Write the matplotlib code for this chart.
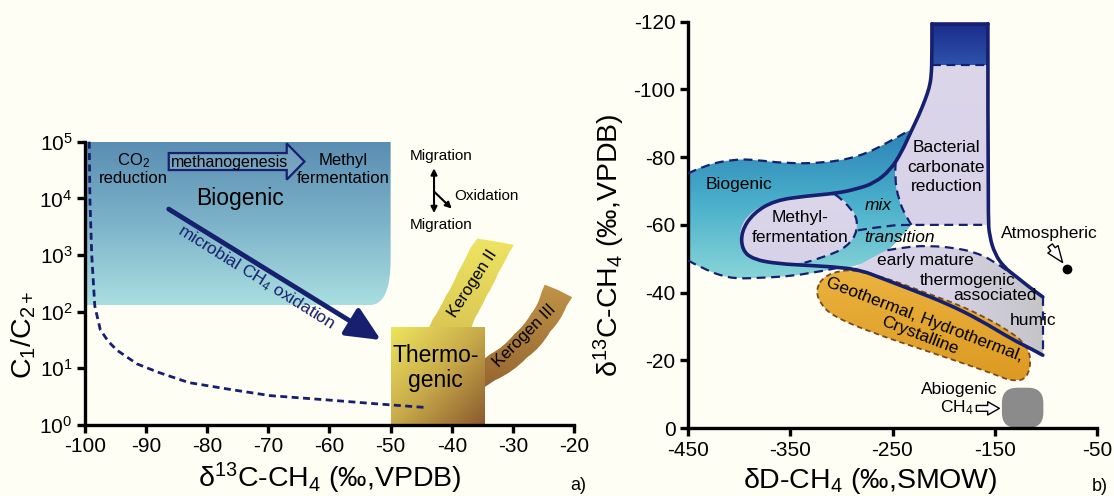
import numpy as np
import matplotlib
matplotlib.use('Agg')
import matplotlib.pyplot as plt
from matplotlib.path import Path
from matplotlib.patches import PathPatch, FancyBboxPatch, Polygon
from matplotlib.colors import LinearSegmentedColormap
from matplotlib.ticker import NullLocator

plt.rcParams['font.family'] = ['Liberation Sans', 'DejaVu Sans']
plt.rcParams['mathtext.fontset'] = 'custom'
plt.rcParams['mathtext.rm'] = 'Liberation Sans'
plt.rcParams['mathtext.it'] = 'Liberation Sans:italic'
plt.rcParams['axes.unicode_minus'] = False

NAVY = '#17206e'
BG = '#fffef5'

# ---------------- panel a data (d13C vs C1/C2+) ----------------
a_xticks = [-100, -90, -80, -70, -60, -50, -40, -30, -20]
a_yticks = [1, 10, 100, 1e3, 1e4, 1e5]

# biogenic field (rounded lower-right corner)
bio_a_x = [-100, -100, -100, -100, -50, -50, -50, -50, -50, -57, -57]
bio_a_y = [130, 130, 1e5, 1e5, 1e5, 1e5, 1500, 1500, 130, 130, 130]

# mixing / oxidation dashed curve
mix_d13c = [-99.3, -99.2, -98.9, -98.4, -97.5, -96.2, -94.8, -91.5, -88, -83, -76, -69.7, -60, -52, -44.6]
mix_ratio = [1e5, 1e4, 1e3, 126, 48, 30, 21, 12, 8.5, 5.6, 4.2, 3.3, 2.75, 2.35, 2.05]

# thermogenic box
therm_x = [-50, -34.6, -34.6, -50]
therm_y = [1, 1, 54, 54]

# kerogen bands
k2_x = [-44.2, -44.2, -42.0, -39.9, -38.1, -35.8, -35.8, -29.8, -29.8, -31.4, -33.3, -35.2, -37.2, -37.2]
k2_y = [40, 40, 107, 275, 710, 1950, 1950, 1510, 1510, 710, 275, 115, 40, 40]
k3_x = [-36, -36, -31.4, -28.1, -25.9, -24.8, -24.8, -20.3, -20.3, -22.2, -25.5, -29.9, -36, -36]
k3_y = [11.5, 11.5, 24, 57, 128, 300, 300, 180, 180, 68, 22.5, 8.6, 3.7, 3.7]

# methanogenesis hollow arrow
meth_x = [-86.3, -67.0, -67.0, -64.1, -67.0, -67.0, -86.3]
meth_y = [10**4.80, 10**4.80, 10**4.97, 10**4.65, 10**4.33, 10**4.50, 10**4.50]

# microbial oxidation arrow (tail, head)
ox_arrow_x = [-86.3, -51.6]
ox_arrow_y = [10**3.81, 10**1.5]

# ---------------- panel b data (dD vs d13C) ----------------
b_xticks = [-450, -350, -250, -150, -50]
b_yticks = [0, -20, -40, -60, -80, -100, -120]

rect_x = [-211.4, -156.7, -156.7, -211.4]
rect_y = [-119.4, -119.4, -107.3, -107.3]

s_curve_x = [-211.4, -211.4, -212, -214, -218, -224, -232, -241, -252, -268, -285, -305, -335, -365,
             -386, -398, -397, -386, -362, -330, -300, -280, -262, -230, -197, -165, -132, -115, -103]
s_curve_y = [-119.4, -110, -104, -100.5, -97, -92.5, -87.5, -81.5, -76.2, -72.3, -70.6, -69.3, -68.5, -67.2,
             -63.5, -58, -52.5, -49.8, -48.5, -48, -47.4, -46.5, -44.4, -40.7, -36.8, -32, -26, -23.5, -21.5]

right_x = [-156.7, -156.7, -155, -150, -141, -128, -115, -103]
right_y = [-119.4, -62, -56.5, -51.5, -47.5, -44.5, -41.3, -38.7]

bio_top_x = [-450, -432.6, -404.8, -383.9, -356, -317.8, -283, -255.2, -233]
bio_top_y = [-75.2, -77.7, -79.4, -79.2, -78.2, -78.2, -80.1, -84.1, -88]
bio_bot_x = [-450, -439.6, -411.7, -383.9, -335.2, -300.4]
bio_bot_y = [-49.5, -47.7, -44.2, -44.2, -45.2, -47.5]
bact_left_x = [-246.9, -248, -244, -236, -231.5]
bact_left_y = [-78.6, -74.1, -67.3, -62, -60]
line60_x = [-283.7, -252.7, -231.5, -156.7]
line60_y = [-58.4, -59.9, -60, -60]
line107_x = [-211.4, -156.7]
line107_y = [-107.3, -107.3]
methyl_dash_x = [-306, -287, -283.5, -294, -316, -336]
methyl_dash_y = [-69, -64.5, -58.4, -53.5, -50.5, -48.8]
thermo_arc_x = [-255, -235, -212, -190, -170, -152, -138]
thermo_arc_y = [-52.5, -53.6, -53.8, -53.2, -52.0, -49.5, -46.5]
humic_x = [-103, -103]
humic_y = [-38.7, -21.5]

cyan_x = [-450, -450, -450, -432.6, -404.8, -383.9, -356, -317.8, -283, -255.2, -233, -233, -241, -246.9, -246.9,
          -248, -244, -236, -231.5, -231.5, -252.4, -275, -295, -295, -300.4, -335.2, -383.9, -411.7, -439.6,
          -450, -450]
cyan_y = [-49.5, -75.2, -75.2, -77.7, -79.4, -79.2, -78.2, -78.2, -80.1, -84.1, -88, -88, -82, -78.6, -78.6,
          -74.1, -67.3, -62, -60, -60, -52.6, -48.8, -47.3, -47.3, -47.5, -45.2, -44.2, -44.2, -47.7,
          -49.5, -49.5]
methyl_x = [-306, -336, -368, -388, -400, -398, -386, -364, -336, -316, -294, -283.5, -287]
methyl_y = [-69.3, -68.5, -67, -64, -59, -52.5, -49.8, -48.4, -48.8, -50.5, -53.5, -58.4, -64.5]
bact_x = [-211.4, -211.4, -156.7, -156.7, -156.7, -156.7, -231.5, -231.5, -236, -244, -248, -246.9, -246.9,
          -241, -233, -224, -218, -214, -212]
bact_y = [-107.3, -107.3, -107.3, -107.3, -60, -60, -60, -60, -62, -67.3, -74.1, -78.6, -78.6,
          -82, -87.5, -92.5, -97, -100.5, -104]
thermo_x = [-252.4, -252.4, -235, -212, -190, -170, -152, -138, -138, -128, -115, -103, -103, -103, -103,
            -115, -132, -165, -197, -230, -262, -290, -290, -272]
thermo_y = [-53, -53, -53.6, -53.8, -53.2, -52, -49.5, -46.5, -46.5, -44.5, -41.3, -38.7, -38.7, -21.5, -21.5,
            -23.5, -26, -32, -36.8, -40.7, -44.4, -46.8, -46.8, -50]
geo_x = [-317, -300, -284, -252, -220, -187, -160, -138, -122, -114, -118, -133, -150, -171, -220, -268.6,
         -307.7, -321, -325]
geo_y = [-44.8, -46.6, -46.5, -43.9, -40.2, -36.6, -32.8, -29, -25.5, -21, -14.5, -13.8, -15.8, -18.1, -23.1,
         -28, -32.9, -36.8, -41]
abio_box = [-143, -11.9, 40.5, 11.9]  # x, y, width, height
atm_point = [-79.2, -47.1]


def smooth_path(xs, ys, closed=True):
    # quadratic B-spline through midpoints; doubled points give sharp corners
    pts = np.column_stack([xs, ys]).astype(float)
    n = len(pts)
    mids = (pts + np.roll(pts, -1, axis=0)) / 2
    if closed:
        verts = [mids[-1]]
        codes = [Path.MOVETO]
        for i in range(n):
            verts += [pts[i], mids[i]]
            codes += [Path.CURVE3, Path.CURVE3]
        verts.append(mids[-1])
        codes.append(Path.CLOSEPOLY)
    else:
        verts = [pts[0]]
        codes = [Path.MOVETO]
        if n == 2:
            verts.append(pts[1])
            codes.append(Path.LINETO)
        for i in range(1, n - 1):
            end = mids[i] if i < n - 2 else pts[-1]
            verts += [pts[i], end]
            codes += [Path.CURVE3, Path.CURVE3]
    return Path(np.array(verts), codes)


def gradient_fill(ax, path, stops, direction='v', zorder=1):
    patch = PathPatch(path, facecolor='none', edgecolor='none', zorder=zorder)
    ax.add_patch(patch)
    bb = patch.get_transform().transform_path(path).get_extents()
    (x0, y0), (x1, y1) = ax.transAxes.inverted().transform([[bb.x0, bb.y0], [bb.x1, bb.y1]])
    t = np.linspace(0, 1, 256)
    if direction == 'v':      # stops listed top -> bottom
        img = np.tile(t[::-1, None], (1, 2))
    elif direction == 'h':    # left -> right
        img = np.tile(t[None, :], (2, 1))
    else:                     # top-left -> bottom-right
        xx, yy = np.meshgrid(t, t)
        img = (xx + (1 - yy)) / 2
    cmap = LinearSegmentedColormap.from_list('g', stops)
    im = ax.imshow(img, cmap=cmap, vmin=0, vmax=1, extent=(x0, x1, y0, y1), transform=ax.transAxes,
                   origin='lower', aspect='auto', interpolation='bilinear', zorder=zorder)
    im.set_clip_path(patch)
    return patch


def style_axes(ax):
    for s in ['top', 'right']:
        ax.spines[s].set_visible(False)
    for s in ['left', 'bottom']:
        ax.spines[s].set_linewidth(2.4)
    ax.tick_params(width=2.4, length=6, labelsize=15, direction='out', pad=3)
    ax.set_facecolor('none')


fig = plt.figure(figsize=(11.14, 4.96), dpi=100)
fig.patch.set_facecolor(BG)

# ================= panel a =================
axa = fig.add_axes([85 / 1114, 71 / 496, 489 / 1114, 283.3 / 496])
axa.set_yscale('log')
axa.set_xlim(-100, -20)
axa.set_ylim(1, 1e5)
axa.set_xticks(a_xticks)
axa.set_yticks(a_yticks)
axa.yaxis.set_minor_locator(NullLocator())
style_axes(axa)

gradient_fill(axa, smooth_path(bio_a_x, bio_a_y), ['#5a8db2', '#7db3c9', '#a9dee1'], 'v', zorder=1)
gradient_fill(axa, smooth_path(k2_x, k2_y), ['#eee463', '#d9c653'], 'v', zorder=1)
gradient_fill(axa, smooth_path(k3_x, k3_y), ['#c09448', '#94632f'], 'v', zorder=1)
gradient_fill(axa, Path(np.column_stack([therm_x, therm_y]), closed=False),
              ['#ede65d', '#c8aa4a', '#8a582e'], 'd', zorder=2)

axa.plot(mix_d13c, mix_ratio, color=NAVY, lw=2, ls=(0, (2.5, 1.6)), zorder=3, clip_on=False)

axa.add_patch(Polygon(np.column_stack([meth_x, meth_y]), closed=True, facecolor=(1, 1, 1, 0.12),
                      edgecolor=NAVY, lw=1.6, zorder=3))
axa.annotate('', xy=(ox_arrow_x[1], ox_arrow_y[1]), xytext=(ox_arrow_x[0], ox_arrow_y[0]),
             arrowprops=dict(arrowstyle='-|>,head_length=1.3,head_width=0.6', lw=3.5, color=NAVY,
                             mutation_scale=16, shrinkA=0, shrinkB=0), zorder=4)
axa.annotate('', xy=(-42.9, 10**3.74), xytext=(-42.9, 10**4.53),
             arrowprops=dict(arrowstyle='<|-|>', lw=1.5, color='k', mutation_scale=9, shrinkA=0, shrinkB=0))
axa.annotate('', xy=(-40.0, 10**3.82), xytext=(-42.9, 10**4.12),
             arrowprops=dict(arrowstyle='-|>', lw=1.5, color='k', mutation_scale=9, shrinkA=0, shrinkB=0))

kw = dict(ha='center', va='center', zorder=5)
axa.text(-92.1, 10**4.67, 'CO$_2$', fontsize=12, **kw)
axa.text(-92.1, 10**4.35, 'reduction', fontsize=12, **kw)
axa.text(-76.3, 10**4.64, 'methanogenesis', fontsize=11.5, **kw)
axa.text(-57.7, 10**4.67, 'Methyl', fontsize=12, **kw)
axa.text(-57.7, 10**4.35, 'fermentation', fontsize=12, **kw)
axa.text(-74.7, 10**4.0, 'Biogenic', fontsize=16.5, **kw)
axa.text(-72, 10**2.6, 'microbial CH$_4$ oxidation', fontsize=12.5, rotation=-32, color=NAVY, **kw)
axa.text(-41.8, 10**4.74, 'Migration', fontsize=11, **kw)
axa.text(-41.8, 10**3.53, 'Migration', fontsize=11, **kw)
axa.text(-39.6, 10**4.04, 'Oxidation', fontsize=11, ha='left', va='center')
axa.text(-42.6, 10**1.0, 'Thermo-\ngenic', fontsize=16.5, linespacing=1.1, **kw)
axa.text(-36.6, 10**2.5, 'Kerogen II', fontsize=12, rotation=57, **kw)
axa.text(-28.1, 10**1.58, 'Kerogen III', fontsize=12, rotation=45, **kw)

axa.set_xlabel('δ$^{13}$C-CH$_4$ (‰,VPDB)', fontsize=20.5)
axa.xaxis.set_label_coords(0.5, -0.125)
axa.set_ylabel('C$_1$/C$_{2+}$', fontsize=20.5)
axa.yaxis.set_label_coords(-0.097, 0.32)

# ================= panel b =================
axb = fig.add_axes([688 / 1114, 68 / 496, 409 / 1114, 406.3 / 496])
axb.set_xlim(-450, -50)
axb.set_ylim(0, -120)
axb.set_xticks(b_xticks)
axb.set_yticks(b_yticks)
style_axes(axb)

gradient_fill(axb, smooth_path(cyan_x, cyan_y), ['#2c82b6', '#4ab0cb', '#88d4d8'], 'v', zorder=1)
gradient_fill(axb, smooth_path(bact_x, bact_y), ['#dcd6eb', '#d8d2e8'], 'v', zorder=1)
gradient_fill(axb, smooth_path(thermo_x, thermo_y), ['#dcd5ea', '#d6d1e4', '#c5c5c8'], 'h', zorder=1)
gradient_fill(axb, smooth_path(methyl_x, methyl_y), ['#dcd6eb', '#d8d2e8'], 'v', zorder=2)
gradient_fill(axb, Path(np.column_stack([rect_x, rect_y]), closed=False), ['#1a2d8d', '#2e53ab'], 'v', zorder=2)
geo_path = smooth_path(geo_x, geo_y)
gradient_fill(axb, geo_path, ['#ebb33f', '#dc9a22'], 'v', zorder=2)
axb.add_patch(PathPatch(geo_path, facecolor='none', edgecolor='#7a4a1e', lw=1.3, ls=(0, (3, 2)), zorder=3))

abx, aby, abw, abh = abio_box
axb.add_patch(FancyBboxPatch((abx, aby), abw, abh, boxstyle='round,pad=0,rounding_size=15',
                             mutation_aspect=0.3, facecolor='#8b8b8b', edgecolor='none', zorder=2))

dash = dict(facecolor='none', edgecolor=NAVY, lw=1.6, ls=(0, (4, 2.5)), zorder=3)
for xs, ys in [(bio_top_x, bio_top_y), (bio_bot_x, bio_bot_y), (bact_left_x, bact_left_y),
               (line60_x, line60_y), (line107_x, line107_y), (methyl_dash_x, methyl_dash_y),
               (thermo_arc_x, thermo_arc_y), (humic_x, humic_y)]:
    axb.add_patch(PathPatch(smooth_path(xs, ys, closed=False), **dash))

solid = dict(facecolor='none', edgecolor=NAVY, lw=2.6, zorder=4, capstyle='round', joinstyle='round')
axb.add_patch(PathPatch(smooth_path(s_curve_x, s_curve_y, closed=False), **solid))
axb.add_patch(PathPatch(smooth_path(right_x, right_y, closed=False), **solid))
axb.add_patch(PathPatch(Path([[rect_x[0], rect_y[0]], [rect_x[1], rect_y[1]]]), **solid))

axb.plot(atm_point[0], atm_point[1], 'o', color='k', ms=6, zorder=5)
axb.annotate('', xy=(-83.7, -48.9), xytext=(-95.8, -53.9),
             arrowprops=dict(arrowstyle='simple,head_length=0.9,head_width=0.7,tail_width=0.3',
                             fc='white', ec='k', lw=1, mutation_scale=13, shrinkA=0, shrinkB=0), zorder=5)
axb.annotate('', xy=(-145.5, -5.8), xytext=(-168, -5.8),
             arrowprops=dict(arrowstyle='simple,head_length=0.7,head_width=0.8,tail_width=0.35',
                             fc='white', ec='k', lw=1, mutation_scale=12, shrinkA=0, shrinkB=0), zorder=5)

fs = 12.5
axb.text(-400, -71.9, 'Biogenic', fontsize=fs, **kw)
axb.text(-340.6, -62.3, 'Methyl-', fontsize=fs, **kw)
axb.text(-340.6, -56.4, 'fermentation', fontsize=fs, **kw)
axb.text(-264.2, -65.8, 'mix', fontsize=fs, style='italic', **kw)
axb.text(-243, -56.4, 'transition', fontsize=fs, style='italic', **kw)
axb.text(-197.4, -82.8, 'Bacterial', fontsize=fs, **kw)
axb.text(-197.4, -76.9, 'carbonate', fontsize=fs, **kw)
axb.text(-197.4, -71.4, 'reduction', fontsize=fs, **kw)
axb.text(-218.2, -49.5, 'early mature', fontsize=fs, **kw)
axb.text(-176.3, -43.5, 'thermogenic', fontsize=fs, **kw)
axb.text(-150.2, -39.2, 'associated', fontsize=fs, **kw)
axb.text(-112.8, -31.7, 'humic', fontsize=fs, **kw)
axb.text(-96.7, -57.4, 'Atmospheric', fontsize=fs, **kw)
axb.text(-218.2, -31.9, 'Geothermal, Hydrothermal,', fontsize=fs, rotation=-21, **kw)
axb.text(-223.7, -27.3, 'Crystalline', fontsize=fs, rotation=-21, **kw)
axb.text(-184.7, -11.4, 'Abiogenic', fontsize=fs, **kw)
axb.text(-187.3, -6.0, 'CH$_4$', fontsize=fs, **kw)

axb.set_xlabel('δD-CH$_4$ (‰,SMOW)', fontsize=20.5)
axb.xaxis.set_label_coords(0.445, -0.094)
axb.set_ylabel('δ$^{13}$C-CH$_4$ (‰,VPDB)', fontsize=20.5)
axb.yaxis.set_label_coords(-0.15, 0.45)

axa.set_xlim(-100, -20)
axa.set_ylim(1, 1e5)
axb.set_xlim(-450, -50)
axb.set_ylim(0, -120)

fig.text(0.519, 0.022, 'a)', fontsize=13, ha='center', va='center')
fig.text(0.987, 0.02, 'b)', fontsize=13, ha='center', va='center')

fig.savefig('out.png', dpi=100, facecolor=BG)
